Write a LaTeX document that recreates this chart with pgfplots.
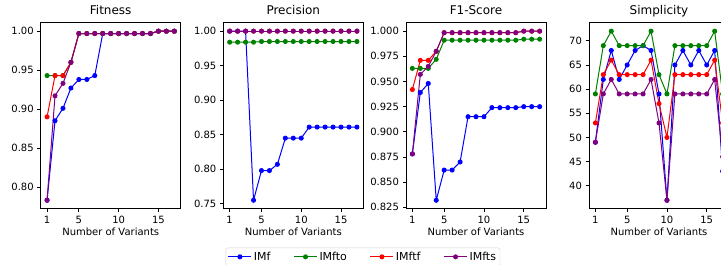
\documentclass[border=0pt]{standalone}
\usepackage{fontspec}
\setmainfont{DejaVu Sans}
\usepackage{pgfplots}
\usepackage{pgfplotstable}
\pgfplotsset{compat=1.18}
\definecolor{mblue}{rgb}{0,0,1}
\definecolor{mgreen}{rgb}{0,0.502,0}
\definecolor{mred}{rgb}{1,0,0}
\definecolor{mpurple}{rgb}{0.502,0,0.502}

\pgfplotstableread{
x f to tf ts
1 0.783 0.943 0.890 0.783
2 0.885 0.943 0.943 0.917
3 0.901 0.943 0.943 0.933
4 0.927 0.960 0.960 0.960
5 0.938 0.997 0.997 0.997
6 0.938 0.997 0.997 0.997
7 0.943 0.997 0.997 0.997
8 0.997 0.997 0.997 0.997
9 0.997 0.997 0.997 0.997
10 0.997 0.997 0.997 0.997
11 0.997 0.997 0.997 0.997
12 0.997 0.997 0.997 0.997
13 0.997 0.997 0.997 0.997
14 0.997 0.997 0.997 0.997
15 1.000 1.000 1.000 1.000
16 1.000 1.000 1.000 1.000
17 1.000 1.000 1.000 1.000
}\fitness

\pgfplotstableread{
x f to tf ts
1 1.000 0.984 1.000 1.000
2 1.000 0.984 1.000 1.000
3 1.000 0.984 1.000 1.000
4 0.755 0.984 1.000 1.000
5 0.798 0.985 1.000 1.000
6 0.798 0.985 1.000 1.000
7 0.807 0.985 1.000 1.000
8 0.845 0.985 1.000 1.000
9 0.845 0.985 1.000 1.000
10 0.845 0.985 1.000 1.000
11 0.861 0.985 1.000 1.000
12 0.861 0.985 1.000 1.000
13 0.861 0.985 1.000 1.000
14 0.861 0.985 1.000 1.000
15 0.861 0.985 1.000 1.000
16 0.861 0.985 1.000 1.000
17 0.861 0.985 1.000 1.000
}\precision

\pgfplotstableread{
x f to tf ts
1 0.878 0.963 0.942 0.878
2 0.939 0.963 0.971 0.957
3 0.948 0.963 0.971 0.965
4 0.832 0.972 0.980 0.980
5 0.862 0.991 0.9985 0.9985
6 0.862 0.991 0.9985 0.9985
7 0.870 0.991 0.9985 0.9985
8 0.915 0.991 0.9985 0.9985
9 0.915 0.991 0.9985 0.9985
10 0.915 0.991 0.9985 0.9985
11 0.924 0.991 0.9985 0.9985
12 0.924 0.991 0.9985 0.9985
13 0.924 0.991 0.9985 0.9985
14 0.924 0.991 0.9985 0.9985
15 0.925 0.992 1.000 1.000
16 0.925 0.992 1.000 1.000
17 0.925 0.992 1.000 1.000
}\fscore

\pgfplotstableread{
x f to tf ts
1 49 59 53 49
2 62 69 63 59
3 68 72 66 62
4 62 69 63 59
5 65 69 63 59
6 68 69 63 59
7 69 69 63 59
8 68 72 66 62
9 59 63 57 53
10 37 59 50 37
11 65 69 63 59
12 68 69 63 59
13 65 69 63 59
14 68 69 63 59
15 65 69 63 59
16 68 72 66 62
17 43 59 53 46
}\simplicity

\pgfplotsset{
  base/.style={
    scale only axis, width=140pt, height=186pt,
    anchor=south west,
    xmin=0.2, xmax=17.8,
    xtick={1,5,10,15},
    tick align=outside, major tick length=3.5pt,
    xtick pos=bottom, ytick pos=left,
    tick style={black, line width=0.8pt},
    axis line style={line width=0.8pt},
    ticklabel style={font=\fontsize{10}{12}\selectfont},
    /pgf/number format/assume math mode=true,
    title style={font=\fontsize{12}{14}\selectfont, at={(0.5,1)}, anchor=base, yshift=2.6pt},
    xlabel={Number of Variants},
    xlabel style={font=\fontsize{10}{12}\selectfont, at={(0.5,0)}, anchor=base, yshift=-27pt},
    every axis plot/.append style={line width=1pt, mark=*, mark size=2pt},
  },
  cb/.style={color=mblue, mark options={fill=mblue, draw=mblue}},
  cg/.style={color=mgreen, mark options={fill=mgreen, draw=mgreen}},
  cr/.style={color=mred, mark options={fill=mred, draw=mred}},
  cp/.style={color=mpurple, mark options={fill=mpurple, draw=mpurple}},
}

\begin{document}
\begin{tikzpicture}
\useasboundingbox (0pt,0pt) rectangle (721pt,265pt);
\clip (0pt,0pt) rectangle (721pt,265pt);

\begin{axis}[base, at={(40.7pt,56.3pt)}, title={Fitness},
  ymin=0.7721, ymax=1.0109,
  ytick={0.80,0.85,0.90,0.95,1.00},
  yticklabel style={/pgf/number format/.cd, fixed, fixed zerofill, precision=2},
  legend columns=4,
  legend style={at={(1.3214,-0.2097)}, anchor=north west,
    draw=black!18, rounded corners=2pt, font=\fontsize{11}{13}\selectfont,
    inner xsep=2pt, inner ysep=2pt,
    /tikz/every even column/.append style={column sep=21pt}},
  legend image code/.code={\draw[mark repeat=2,mark phase=2] plot coordinates {(0pt,0pt)(11.5pt,0pt)(23pt,0pt)};},
]
\addplot[cb] table[x=x,y=f] {\fitness}; \addlegendentry{IMf}
\addplot[cg] table[x=x,y=to] {\fitness}; \addlegendentry{IMfto}
\addplot[cr] table[x=x,y=tf] {\fitness}; \addlegendentry{IMftf}
\addplot[cp] table[x=x,y=ts] {\fitness}; \addlegendentry{IMfts\hspace{4pt}}
\end{axis}

\begin{axis}[base, at={(223.3pt,56.3pt)}, title={Precision},
  ymin=0.74275, ymax=1.01225,
  ytick={0.75,0.80,0.85,0.90,0.95,1.00},
  yticklabel style={/pgf/number format/.cd, fixed, fixed zerofill, precision=2},
]
\addplot[cb] table[x=x,y=f] {\precision};
\addplot[cg] table[x=x,y=to] {\precision};
\addplot[cr] table[x=x,y=tf] {\precision};
\addplot[cp] table[x=x,y=ts] {\precision};
\end{axis}

\begin{axis}[base, at={(406pt,56.3pt)}, title={F1-Score},
  ymin=0.8236, ymax=1.0084,
  ytick={0.825,0.850,0.875,0.900,0.925,0.950,0.975,1.000},
  yticklabel style={/pgf/number format/.cd, fixed, fixed zerofill, precision=3},
]
\addplot[cb] table[x=x,y=f] {\fscore};
\addplot[cg] table[x=x,y=to] {\fscore};
\addplot[cr] table[x=x,y=tf] {\fscore};
\addplot[cp] table[x=x,y=ts] {\fscore};
\end{axis}

\begin{axis}[base, at={(589pt,56.3pt)}, title={Simplicity},
  ymin=35.25, ymax=73.75,
  ytick={40,45,50,55,60,65,70},
]
\addplot[cb] table[x=x,y=f] {\simplicity};
\addplot[cg] table[x=x,y=to] {\simplicity};
\addplot[cr] table[x=x,y=tf] {\simplicity};
\addplot[cp] table[x=x,y=ts] {\simplicity};
\end{axis}
\end{tikzpicture}
\end{document}
